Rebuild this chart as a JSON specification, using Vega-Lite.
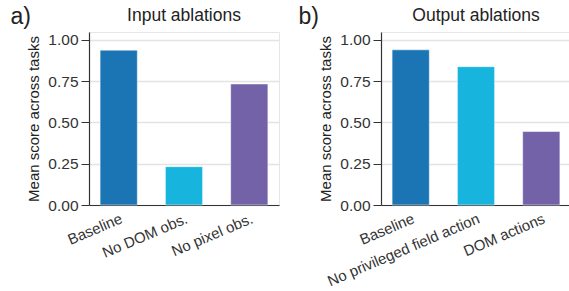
{
  "$schema": "https://vega.github.io/schema/vega-lite/v6.json",
  "padding": {"left": 10, "top": 6, "right": 0, "bottom": 0},
  "background": "white",
  "config": {
    "font": "Liberation Sans",
    "view": {"stroke": "#e6e6e6", "strokeWidth": 1},
    "axis": {
      "labelColor": "#333333",
      "titleColor": "#222222",
      "labelFont": "Liberation Sans",
      "titleFont": "Liberation Sans",
      "domainColor": "#333333",
      "tickColor": "#333333",
      "domainWidth": 1.2,
      "gridColor": "#e3e3e3",
      "gridWidth": 1.3
    },
    "concat": {"spacing": 18}
  },
  "resolve": {"scale": {"color": "shared"}},
  "hconcat": [
    {
      "title": {"text": "a)", "orient": "left", "angle": 0, "anchor": "end", "frame": "bounds", "align": "right", "baseline": "top", "fontSize": 23, "fontWeight": "normal", "color": "#222222", "offset": -25},
      "vconcat": [
        {
          "width": 190,
          "height": 173,
          "title": {"text": "Input ablations", "fontSize": 17.5, "fontWeight": "normal", "color": "#222222", "offset": 8},
          "data": {"values": [
            {"condition": "Baseline", "score": 0.938},
            {"condition": "No DOM obs.", "score": 0.232},
            {"condition": "No pixel obs.", "score": 0.733}
          ]},
          "mark": {"type": "bar", "stroke": "white", "strokeOpacity": 0.5, "strokeWidth": 1},
          "encoding": {
            "x": {"field": "condition", "type": "nominal", "sort": null,
              "scale": {"paddingInner": 0.43, "paddingOuter": 0.17},
              "axis": {"title": null, "labelAngle": -23, "labelAlign": "right", "labelBaseline": "top", "ticks": false, "labelFontSize": 15, "labelPadding": 6, "grid": false}},
            "y": {"field": "score", "type": "quantitative",
              "scale": {"domain": [0, 1.048], "nice": false, "zero": true},
              "axis": {"title": "Mean score across tasks", "values": [0, 0.25, 0.5, 0.75, 1], "format": ".2f", "grid": true, "labelFontSize": 15.5, "titleFontSize": 15, "titleFontWeight": "normal", "tickSize": 8, "labelPadding": 3, "titlePadding": 6}},
            "color": {"field": "condition", "type": "nominal",
              "scale": {"domain": ["Baseline", "No DOM obs.", "No pixel obs.", "No privileged field action", "DOM actions"],
                "range": ["#1b75b4", "#17b4de", "#7462a8", "#17b4de", "#7462a8"]},
              "legend": null}
          }
        }
      ]
    },
    {
      "title": {"text": "b)", "orient": "left", "angle": 0, "anchor": "end", "frame": "bounds", "align": "right", "baseline": "top", "fontSize": 23, "fontWeight": "normal", "color": "#222222", "offset": -21},
      "vconcat": [
        {
          "width": 190,
          "height": 173,
          "title": {"text": "Output ablations", "fontSize": 17.5, "fontWeight": "normal", "color": "#222222", "offset": 8},
          "data": {"values": [
            {"condition": "Baseline", "score": 0.94},
            {"condition": "No privileged field action", "score": 0.838},
            {"condition": "DOM actions", "score": 0.445}
          ]},
          "mark": {"type": "bar", "stroke": "white", "strokeOpacity": 0.5, "strokeWidth": 1},
          "encoding": {
            "x": {"field": "condition", "type": "nominal", "sort": null,
              "scale": {"paddingInner": 0.43, "paddingOuter": 0.17},
              "axis": {"title": null, "labelAngle": -23, "labelAlign": "right", "labelBaseline": "top", "ticks": false, "labelFontSize": 15, "labelPadding": 6, "grid": false}},
            "y": {"field": "score", "type": "quantitative",
              "scale": {"domain": [0, 1.048], "nice": false, "zero": true},
              "axis": {"title": "Mean score across tasks", "values": [0, 0.25, 0.5, 0.75, 1], "format": ".2f", "grid": true, "labelFontSize": 15.5, "titleFontSize": 15, "titleFontWeight": "normal", "tickSize": 8, "labelPadding": 3, "titlePadding": 6}},
            "color": {"field": "condition", "type": "nominal",
              "scale": {"domain": ["Baseline", "No DOM obs.", "No pixel obs.", "No privileged field action", "DOM actions"],
                "range": ["#1b75b4", "#17b4de", "#7462a8", "#17b4de", "#7462a8"]},
              "legend": null}
          }
        }
      ]
    }
  ]
}
